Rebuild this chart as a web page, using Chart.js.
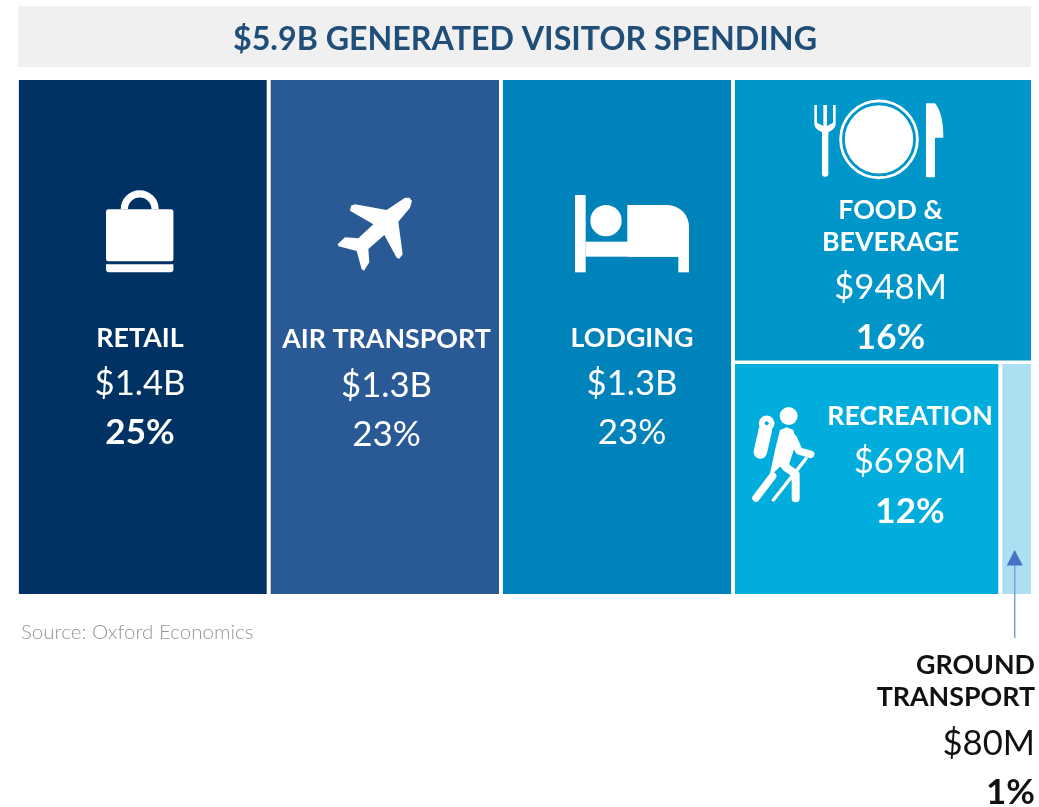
<!DOCTYPE html>
<html><head><meta charset="utf-8">
<style>html,body{margin:0;padding:0;background:#fff;overflow:hidden}canvas{display:block}</style>
<script src="https://cdn.jsdelivr.net/npm/chart.js@4"></script>
</head><body>
<canvas id="c" width="1039" height="807"></canvas>
<script>
const chartTitle = '$5.9B GENERATED VISITOR SPENDING';
const sourceNote = 'Source: Oxford Economics';
const categories = ['RETAIL', 'AIR TRANSPORT', 'LODGING', 'FOOD & BEVERAGE', 'RECREATION', 'GROUND TRANSPORT'];
const spendMillions = [1449, 1345, 1345, 948, 698, 80];
const amountLabels = ['$1.4B', '$1.3B', '$1.3B', '$948M', '$698M', '$80M'];
const shareLabels = ['25%', '23%', '23%', '16%', '12%', '1%'];
const tileColors = ['#003263', '#2A5A96', '#0082BA', '#0096C9', '#00ADDD', '#ADDFF3'];

const total = spendMillions.reduce((a, b) => a + b, 0);
const GAP_PX = 1.8, AREA_W = 1013, AREA_H = 514;
const gx = GAP_PX * total / AREA_W, gy = GAP_PX * 100 / AREA_H;

// Treemap layout in data units: three full-height columns, then a split column
const [retail, air, lodging, food, rec, ground] = spendMillions;
const rightCol = food + rec + ground;
const x1 = retail, x2 = x1 + air, x3 = x2 + lodging;
const yFood = 100 * food / rightCol;
const x4 = x3 + rightCol * rec / (rec + ground);
const cells = [
  [0, x1, 0, 100], [x1, x2, 0, 100], [x2, x3, 0, 100],
  [x3, total, 0, yFood], [x3, x4, yFood, 100], [x4, total, yFood, 100]
].map(([a, b, c, d]) => [a ? a + gx : a, b < total ? b - gx : b, c ? c + gy : c, d < 100 ? d - gy : d]);

const datasets = cells.map(([a, b, top, bottom], i) => ({
  label: categories[i],
  data: [{x: a, y: top}, {x: b, y: top}],
  backgroundColor: tileColors[i],
  borderWidth: 0, pointRadius: 0, tension: 0,
  fill: {value: bottom}
}));

const NAME = '700 26.8px Lato', AMT = '400 34.7px Lato', PCT = '700 35px Lato', PCTR = '400 35px Lato';
const W = '#ffffff', K = '#111111';
// [text, x, baseline, font, colour, align]
const textRuns = [
  ['RETAIL', 140, 347, NAME, W], [amountLabels[0], 140, 395, AMT, W], [shareLabels[0], 140, 443.5, PCT, W],
  ['AIR TRANSPORT', 386.5, 348, NAME, W], [amountLabels[1], 386.5, 396.5, AMT, W], [shareLabels[1], 386.5, 445.5, PCTR, W],
  ['LODGING', 632, 347, NAME, W], [amountLabels[2], 632, 395, AMT, W], [shareLabels[2], 632, 443.5, PCTR, W],
  ['FOOD &', 890.5, 219, NAME, W], ['BEVERAGE', 890.5, 250.5, NAME, W], [amountLabels[3], 890.5, 298.5, AMT, W], [shareLabels[3], 890.5, 349, PCT, W],
  ['RECREATION', 910, 425, NAME, W], [amountLabels[4], 910, 473, AMT, W], [shareLabels[4], 910, 523, PCT, W],
  ['GROUND', 1035, 674, NAME, K, 'right'], ['TRANSPORT', 1035, 706, NAME, K, 'right'],
  [amountLabels[5], 1035, 754.5, AMT, K, 'right'], [shareLabels[5], 1035, 804, PCT, K, 'right'],
  [sourceNote, 21, 639, '300 20.5px Lato', '#969696', 'left'],
  [chartTitle, 525, 50, '700 32.2px Lato', '#1F4E79']
];

function drawIcons(ctx) {
  ctx.save();
  ctx.fillStyle = '#fff'; ctx.strokeStyle = '#fff';
  const rr = (x, y, w, h, r) => { ctx.beginPath(); ctx.roundRect(x, y, w, h, r); ctx.fill(); };
  const disc = (x, y, r) => { ctx.beginPath(); ctx.arc(x, y, r, 0, Math.PI * 2); ctx.fill(); };
  const poly = (pts) => { ctx.beginPath(); pts.forEach((p, i) => i ? ctx.lineTo(p[0], p[1]) : ctx.moveTo(p[0], p[1])); ctx.closePath(); ctx.fill(); };
  const line = (pts, w) => { ctx.beginPath(); ctx.lineWidth = w; ctx.lineCap = 'round'; ctx.lineJoin = 'round'; pts.forEach((p, i) => i ? ctx.lineTo(p[0], p[1]) : ctx.moveTo(p[0], p[1])); ctx.stroke(); };

  // shopping bag
  rr(106, 209.3, 67.4, 52, 2.5);
  rr(106, 264.3, 67.4, 8, [0, 0, 3, 3]);
  ctx.beginPath(); ctx.lineWidth = 7.2; ctx.lineCap = 'butt';
  ctx.arc(139.7, 209.3, 15.4, Math.PI, 0); ctx.stroke();

  // plane
  const pz = [[945,68],[890,105],[795,88],[783,92],[780,107],[850,148],[805,190],[765,187],[743,208],[746,214],[800,228],[815,283],[822,287],[838,262],[835,222],[883,180],[920,248],[928,251],[938,238],[925,140],[960,98],[966,78],[958,68]];
  ctx.beginPath(); pz.forEach((p, i) => { const X = 90 + p[0] / 3, Y = 175 + p[1] / 3; i ? ctx.lineTo(X, Y) : ctx.moveTo(X, Y); }); ctx.closePath(); ctx.fill();

  // bed
  const bx = z => 560 + z / 3, by = z => 90 + z / 3;
  ctx.fillRect(bx(45), by(315), 32 / 3, 232 / 3);
  ctx.fillRect(bx(77), by(455), 310 / 3, 45 / 3);
  ctx.fillRect(bx(355), by(480), 32 / 3, 67 / 3);
  ctx.beginPath(); ctx.moveTo(bx(202), by(345)); ctx.lineTo(bx(322), by(345));
  ctx.arcTo(bx(387), by(345), bx(387), by(410), 65 / 3);
  ctx.lineTo(bx(387), by(500)); ctx.lineTo(bx(202), by(500)); ctx.closePath(); ctx.fill();
  disc(bx(138), by(392), 47 / 3);

  // fork: three tines above a rounded head and a long handle
  const fx = bx, fy = by;
  rr(fx(786), fy(120), 19 / 3, 140 / 3, [0, 0, 3, 3]);
  ctx.beginPath(); ctx.moveTo(fx(763), fy(45)); ctx.lineTo(fx(771), fy(45)); ctx.lineTo(fx(771), fy(98));
  ctx.lineTo(fx(790), fy(108)); ctx.lineTo(fx(790), fy(45)); ctx.lineTo(fx(801), fy(45)); ctx.lineTo(fx(801), fy(108));
  ctx.lineTo(fx(819), fy(98)); ctx.lineTo(fx(819), fy(45)); ctx.lineTo(fx(827), fy(45)); ctx.lineTo(fx(827), fy(105));
  ctx.quadraticCurveTo(fx(822), fy(122), fx(796), fy(130)); ctx.quadraticCurveTo(fx(768), fy(122), fx(763), fy(105));
  ctx.closePath(); ctx.fill();

  // plate
  ctx.beginPath(); ctx.lineWidth = 2.8; ctx.arc(fx(957), fy(148), 38.4, 0, Math.PI * 2); ctx.stroke();
  disc(fx(957), fy(148), 34.2);

  // knife
  ctx.beginPath(); ctx.moveTo(fx(1098), fy(40)); ctx.lineTo(fx(1125), fy(40));
  ctx.quadraticCurveTo(fx(1150), fy(70), fx(1150), fy(143)); ctx.lineTo(fx(1125), fy(143));
  ctx.lineTo(fx(1125), fy(262)); ctx.lineTo(fx(1098), fy(262)); ctx.closePath(); ctx.fill();

  // hiker
  const hx = z => 730 + z / 3, hy = z => 350 + z / 3;
  const hp = a => a.map(p => [hx(p[0]), hy(p[1])]);
  disc(hx(176), hy(198), 9);
  disc(hx(110), hy(220), 7.8);
  line(hp([[106, 240], [91, 306]]), 13.5);
  poly(hp([[150, 240], [170, 232], [190, 240], [200, 275], [178, 340], [182, 372], [150, 350], [118, 380], [135, 300]]));
  line(hp([[190, 265], [207, 303], [242, 313]]), 7.5);
  line(hp([[128, 378], [78, 444]]), 7.5);
  line(hp([[168, 352], [197, 372], [197, 445]]), 8);
  ctx.fillStyle = tileColors[4];
  disc(hx(110), hy(220), 2);
  line(hp([[228, 326], [130, 450]]), 3.4);
  ctx.restore();
}

const decorPlugin = {
  id: 'decor',
  beforeDraw(chart) {
    const ctx = chart.ctx;
    ctx.save();
    ctx.fillStyle = '#F0F0F0';
    ctx.fillRect(18, 6, 1013, 61);
    ctx.restore();
  },
  afterDraw(chart) {
    const ctx = chart.ctx;
    drawIcons(ctx);
    ctx.save();
    // leader arrow to the ground-transport tile
    const ax = 1014.7;
    ctx.strokeStyle = '#7F9CDC'; ctx.lineWidth = 1.5;
    ctx.beginPath(); ctx.moveTo(ax, 638); ctx.lineTo(ax, 562); ctx.stroke();
    ctx.fillStyle = '#4472C4';
    ctx.beginPath(); ctx.moveTo(ax, 550); ctx.lineTo(ax + 8, 565.5); ctx.lineTo(ax - 8, 565.5); ctx.closePath(); ctx.fill();
    ctx.textBaseline = 'alphabetic';
    textRuns.forEach(([t, x, y, font, col, align]) => {
      ctx.font = font; ctx.fillStyle = col; ctx.textAlign = align || 'center';
      ctx.fillText(t, x, y);
    });
    ctx.restore();
  }
};

new Chart(document.getElementById('c'), {
  type: 'line',
  data: {datasets},
  plugins: [decorPlugin],
  options: {
    responsive: false, animation: false, devicePixelRatio: 1,
    parsing: {xAxisKey: 'x', yAxisKey: 'y'},
    layout: {padding: {left: 18.5, right: 8, top: 80, bottom: 213}},
    scales: {
      x: {type: 'linear', display: false, min: 0, max: total},
      y: {type: 'linear', display: false, min: 0, max: 100, reverse: true}
    },
    plugins: {legend: {display: false}, tooltip: {enabled: false}, title: {display: false}},
    elements: {line: {borderWidth: 0}}
  }
});
</script>
</body></html>
